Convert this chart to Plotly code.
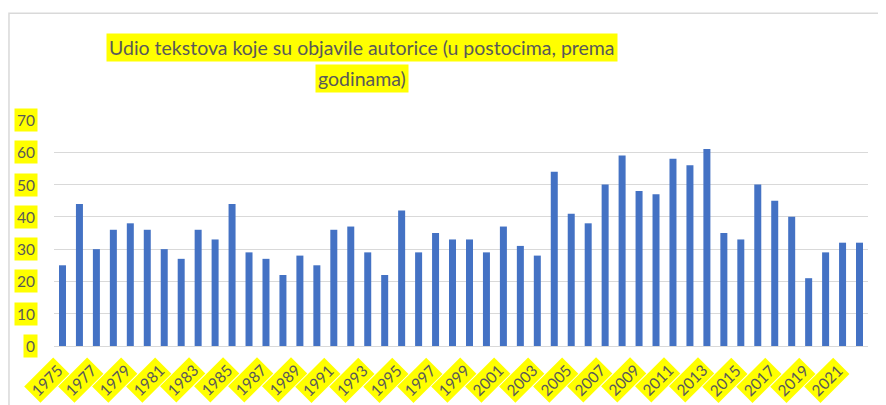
import plotly.graph_objects as go

years = list(range(1975, 2023))
values = [25, 44, 30, 36, 38, 36, 30, 27, 36, 33, 44, 29, 27, 22, 28, 25, 36, 37, 29, 22,
          42, 29, 35, 33, 33, 29, 37, 31, 28, 54, 41, 38, 50, 59, 48, 47, 58, 56, 61, 35,
          33, 50, 45, 40, 21, 29, 32, 32]
y_ticks = [0, 10, 20, 30, 40, 50, 60, 70]
x_tick_labels = [str(y) for y in years if (y - 1975) % 2 == 0]
title_lines = ["Udio tekstova koje su objavile autorice (u postocima, prema", "godinama)"]

FONT = "Lato, Calibri, sans-serif"
TXT = "#595959"
HL = "#FFFF00"

cats = [str(y) for y in years]
fig = go.Figure(go.Bar(x=cats, y=values, marker=dict(color="#4472C4", line=dict(width=0)),
                       hoverinfo="x+y"))

ann = []
# title lines
for i, line in enumerate(title_lines):
    ann.append(dict(text=line, xref="paper", yref="paper", x=0.378, y=[1.3217, 1.1845][i],
                    xanchor="center", yanchor="middle", showarrow=False,
                    font=dict(family=FONT, size=19.5, color=TXT), bgcolor=HL, borderpad=2))
# y tick labels
for t in y_ticks:
    ann.append(dict(text=str(t), xref="paper", yref="y", x=0, y=t, xanchor="right",
                    yanchor="middle", xshift=-16, showarrow=False,
                    font=dict(family=FONT, size=15.5, color=TXT), bgcolor=HL, borderpad=2))
# x tick labels
for lab in x_tick_labels:
    idx = cats.index(lab)
    ann.append(dict(text=lab, xref="x", yref="y", x=idx, y=0, xanchor="right",
                    yanchor="top", xshift=8, yshift=-11, textangle=-45, showarrow=False,
                    font=dict(family=FONT, size=15.5, color=TXT), bgcolor=HL, borderpad=2))

fig.update_layout(
    width=878, height=397,
    margin=dict(l=46, r=18, t=112, b=59),
    paper_bgcolor="white", plot_bgcolor="white",
    showlegend=False, bargap=0.587,
    annotations=ann,
    xaxis=dict(type="category", showticklabels=False, showgrid=False, zeroline=False,
               showline=False, ticks="", range=[-0.5, 47.5], fixedrange=True),
    yaxis=dict(range=[0, 70], tickvals=y_ticks, showticklabels=False, showgrid=True,
               gridcolor="#D9D9D9", gridwidth=1, zeroline=True, zerolinecolor="#D9D9D9",
               zerolinewidth=1, ticks="", fixedrange=True),
    shapes=[dict(type="rect", xref="paper", yref="paper", x0=-0.0553, y0=-0.6, x1=1.2, y1=1.472,
                 line=dict(color="#D9D9D9", width=1.5), fillcolor="rgba(0,0,0,0)", layer="below")],
)

fig.write_html("out.html")
